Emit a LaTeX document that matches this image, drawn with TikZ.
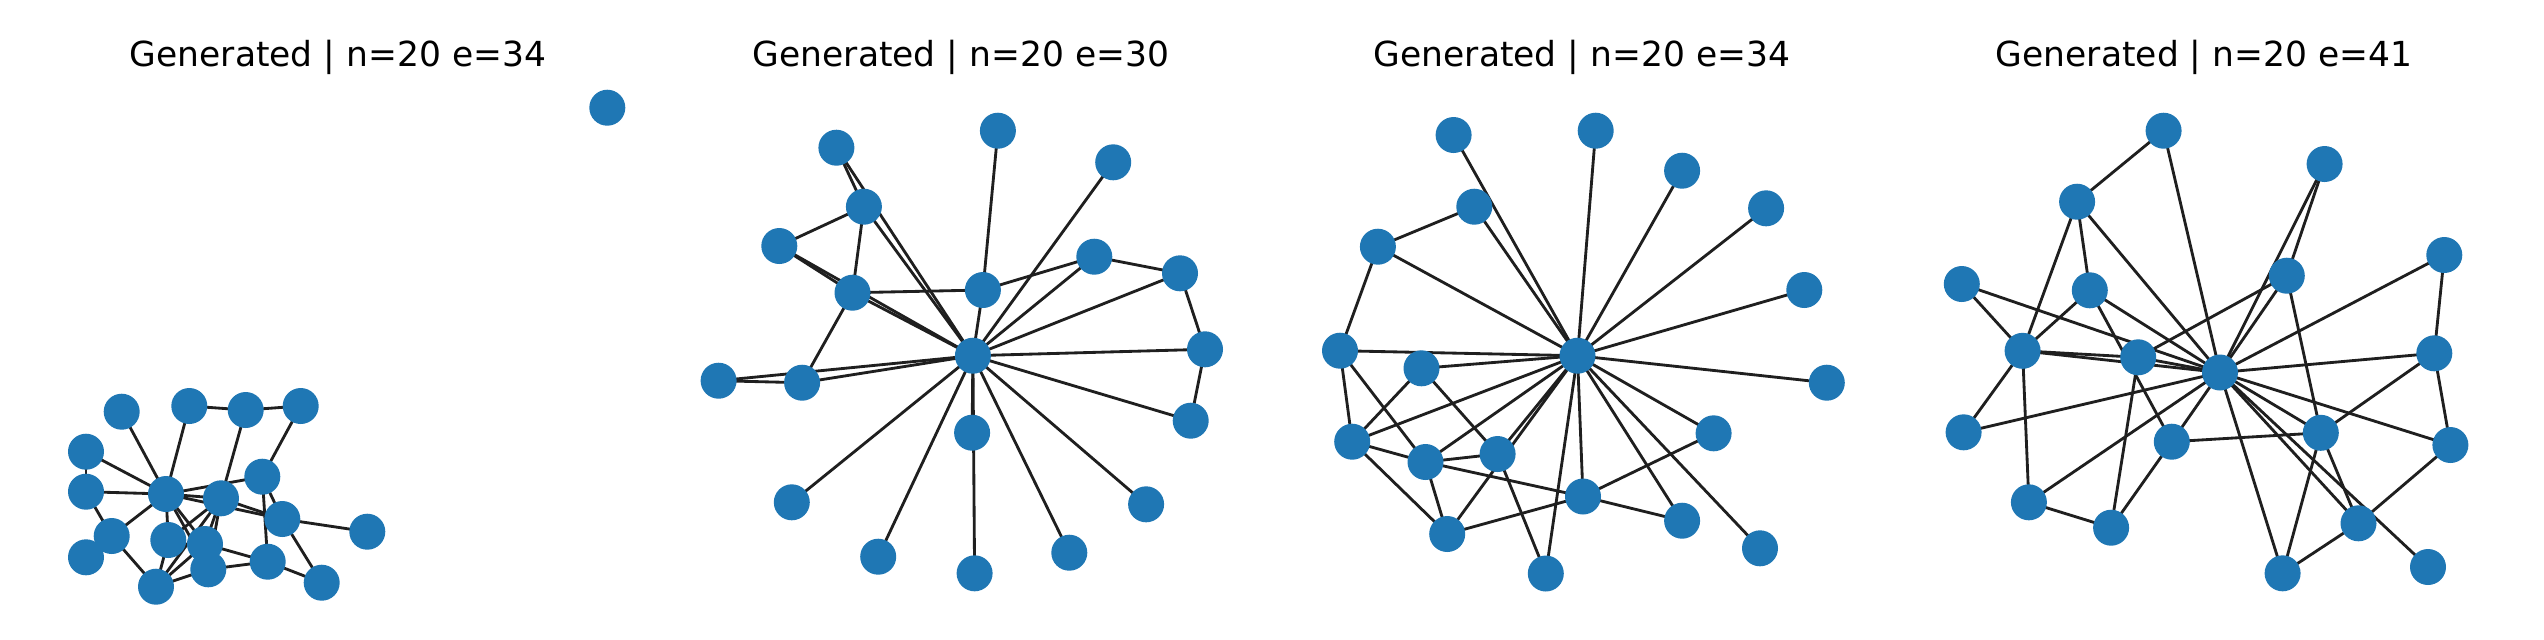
\documentclass[tikz,border=0pt]{standalone}
\usepackage{fontspec}
\setmainfont{DejaVu Sans}
\definecolor{nodeblue}{HTML}{1F77B4}
\pgfdeclarelayer{edges}
\pgfsetlayers{edges,main}
\tikzset{
  vtx/.style={circle,fill=nodeblue,inner sep=0pt,minimum size=10.8pt,draw=none},
  edg/.style={draw=black!88,line width=0.85pt},
  ttl/.style={anchor=base,inner sep=0pt,font=\fontsize{10.35}{12}\selectfont}
}
\begin{document}
\begin{tikzpicture}[x=0.3pt,y=-0.3pt]
\useasboundingbox (0,0) rectangle (2544,639);
% titles
\node[ttl] (t1) at (338,66) {Generated | n=20 e=34};
\node[ttl] (t2) at (961,66) {Generated | n=20 e=30};
\node[ttl] (t3) at (1582,66) {Generated | n=20 e=34};
\node[ttl] (t4) at (2204,66) {Generated | n=20 e=41};
% ---------- panel 1 ----------
\node[vtx] (pAa) at (121.7,411.7) {};
\node[vtx] (pAb) at (189.3,406) {};
\node[vtx] (pAc) at (245.7,410) {};
\node[vtx] (pAd) at (300.7,406) {};
\node[vtx] (pAe) at (86,451.7) {};
\node[vtx] (pAf) at (86,491.7) {};
\node[vtx] (pAg) at (166,494) {};
\node[vtx] (pAh) at (221,498.3) {};
\node[vtx] (pAi) at (262.3,476.7) {};
\node[vtx] (pAj) at (282.3,519) {};
\node[vtx] (pAk) at (367.3,531.7) {};
\node[vtx] (pAl) at (111.7,536) {};
\node[vtx] (pAm) at (86,557.3) {};
\node[vtx] (pAn) at (168.3,540) {};
\node[vtx] (pAo) at (205,544) {};
\node[vtx] (pAp) at (208.3,569.3) {};
\node[vtx] (pAq) at (267.7,561.7) {};
\node[vtx] (pAr) at (321.7,582.7) {};
\node[vtx] (pAs) at (156,586.7) {};
\node[vtx] (pAt) at (607.3,107.7) {};
\begin{pgfonlayer}{edges}
\foreach \u/\v in {a/g,b/g,b/c,c/d,c/h,d/i,e/g,e/f,f/g,f/l,g/l,l/s,g/i,g/h,g/j,h/j,g/n,g/o,g/p,n/h,h/o,h/p,n/s,s/o,s/p,o/q,p/q,i/q,i/j,j/k,j/r,q/r,s/h,m/l}
  \draw[edg] (pA\u.center) -- (pA\v.center);
\end{pgfonlayer}
% ---------- panel 2 ----------
\node[vtx] (pBa) at (836.4,147.7) {};
\node[vtx] (pBb) at (997.9,130.7) {};
\node[vtx] (pBc) at (1113.2,162.3) {};
\node[vtx] (pBd) at (863.9,206.7) {};
\node[vtx] (pBe) at (779.3,246) {};
\node[vtx] (pBf) at (1094.3,256.7) {};
\node[vtx] (pBg) at (1180,273.3) {};
\node[vtx] (pBh) at (852.5,292.7) {};
\node[vtx] (pBi) at (982.9,290) {};
\node[vtx] (pBC) at (972.9,355.7) {};
\node[vtx] (pBj) at (1205,349.3) {};
\node[vtx] (pBk) at (718.6,380.7) {};
\node[vtx] (pBl) at (802.1,382.7) {};
\node[vtx] (pBm) at (972.1,432.7) {};
\node[vtx] (pBn) at (1190.7,420.7) {};
\node[vtx] (pBo) at (791.8,502.3) {};
\node[vtx] (pBp) at (1146.1,504.3) {};
\node[vtx] (pBq) at (878.2,556.7) {};
\node[vtx] (pBr) at (1069.3,552.7) {};
\node[vtx] (pBs) at (974.6,573.3) {};
\begin{pgfonlayer}{edges}
\foreach \u/\v in {a/C,d/C,e/C,h/C,i/C,c/C,f/C,g/C,j/C,n/C,p/C,r/C,s/C,m/C,q/C,o/C,l/C,k/C,a/d,e/d,d/h,h/i,i/f,f/g,g/j,j/n,h/l,b/i,e/h,k/l}
  \draw[edg] (pB\u.center) -- (pB\v.center);
\end{pgfonlayer}
% ---------- panel 3 ----------
\node[vtx] (pCa) at (1453.6,135) {};
\node[vtx] (pCb) at (1595.7,130.7) {};
\node[vtx] (pCc) at (1682.1,170.7) {};
\node[vtx] (pCd) at (1474.3,206.7) {};
\node[vtx] (pCe) at (1766.1,208.3) {};
\node[vtx] (pCf) at (1377.9,246.7) {};
\node[vtx] (pCg) at (1804.3,290) {};
\node[vtx] (pCh) at (1340,350.7) {};
\node[vtx] (pCC) at (1577.5,355.7) {};
\node[vtx] (pCi) at (1421.5,368.3) {};
\node[vtx] (pCj) at (1826.8,382.7) {};
\node[vtx] (pCk) at (1713.6,433.3) {};
\node[vtx] (pCl) at (1352.2,441.7) {};
\node[vtx] (pCm) at (1497.6,454) {};
\node[vtx] (pCn) at (1425.5,462) {};
\node[vtx] (pCo) at (1583,496.5) {};
\node[vtx] (pCp) at (1682.1,520.7) {};
\node[vtx] (pCq) at (1760,548.3) {};
\node[vtx] (pCr) at (1447.2,534) {};
\node[vtx] (pCs) at (1545.8,573.5) {};
\begin{pgfonlayer}{edges}
\foreach \v in {a,b,c,d,e,f,g,h,i,j,k,l,m,n,o,p,q,r,s}
  \draw[edg] (pCC.center) -- (pC\v.center);
\foreach \u/\v in {d/f,f/h,h/l,h/n,l/i,i/m,l/n,l/r,n/m,n/r,n/o,m/s,r/o,o/k,o/p}
  \draw[edg] (pC\u.center) -- (pC\v.center);
\end{pgfonlayer}
% ---------- panel 4 ----------
\node[vtx] (pDa) at (2163.6,130.7) {};
\node[vtx] (pDb) at (2324.6,164) {};
\node[vtx] (pDc) at (2077.1,201.7) {};
\node[vtx] (pDd) at (2444.3,255) {};
\node[vtx] (pDe) at (1961.8,284) {};
\node[vtx] (pDf) at (2089.8,290.3) {};
\node[vtx] (pDg) at (2286.8,275.7) {};
\node[vtx] (pDh) at (2022.6,350.8) {};
\node[vtx] (pDi) at (2138.2,357.3) {};
\node[vtx] (pDC) at (2220,372.5) {};
\node[vtx] (pDj) at (2434.3,353.3) {};
\node[vtx] (pDk) at (1963.6,432.3) {};
\node[vtx] (pDl) at (2171.8,441.7) {};
\node[vtx] (pDm) at (2320.8,432.8) {};
\node[vtx] (pDn) at (2450.4,445) {};
\node[vtx] (pDo) at (2028.9,502.3) {};
\node[vtx] (pDp) at (2111.1,527.7) {};
\node[vtx] (pDq) at (2358.5,523.3) {};
\node[vtx] (pDr) at (2282.6,573.3) {};
\node[vtx] (pDs) at (2428,567) {};
\begin{pgfonlayer}{edges}
\foreach \u/\v in {a/c,a/C,c/h,c/f,c/C,b/g,b/C,g/i,g/m,g/C,d/C,d/j,e/h,e/C,f/h,f/C,f/l,h/i,h/C,h/k,h/o,i/C,i/p,k/C,o/C,o/p,p/l,l/C,l/m,m/C,m/j,m/r,m/q,j/C,j/n,n/C,n/q,q/C,s/C,r/C,r/q}
  \draw[edg] (pD\u.center) -- (pD\v.center);
\end{pgfonlayer}
\end{tikzpicture}
\end{document}
